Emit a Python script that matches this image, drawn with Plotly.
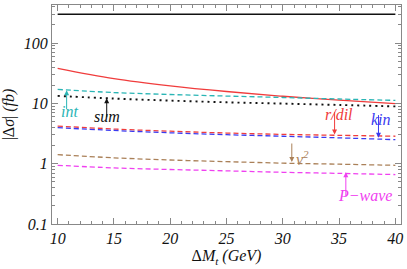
import math
import plotly.graph_objects as go

dm = [10, 15, 20, 25, 30, 35, 40]
total = [300, 300, 300, 300, 300, 300, 300]
red_solid = [38, 25.7, 19.5, 15.7, 13.1, 11.3, 9.9]
int_vals = [17, 15.1, 14.0, 13.2, 12.5, 11.8, 11.2]
sum_vals = [13.3, 12.0, 11.1, 10.4, 9.9, 9.4, 8.9]
rdil_vals = [4.2, 3.75, 3.45, 3.22, 3.06, 2.95, 2.85]
kin_vals = [3.95, 3.55, 3.25, 3.02, 2.85, 2.68, 2.5]
v2_vals = [1.41, 1.25, 1.15, 1.08, 1.02, 0.98, 0.94]
pwave_vals = [0.94, 0.85, 0.80, 0.76, 0.72, 0.69, 0.66]
x_ticks = [10, 15, 20, 25, 30, 35, 40]
y_ticks = [0.1, 1, 10, 100]
y_ticktext = ["0.1", "1", "10", "100"]

C_RED = "#f03c3c"
C_CYAN = "#2ab5b5"
C_BLUE = "#3a3af0"
C_BROWN = "#aa8058"
C_MAG = "#f040f0"
C_BLK = "#111111"
SERIF = "Liberation Serif"

fig = go.Figure()


def add(y, color, dash, width=1.3):
    fig.add_trace(go.Scatter(x=dm, y=y, mode="lines",
                             line=dict(color=color, dash=dash, width=width, shape="spline"),
                             showlegend=False, hoverinfo="skip"))


add(total, C_BLK, "solid", 1.5)
add(red_solid, C_RED, "solid", 1.3)
add(int_vals, C_CYAN, "5px,3px")
add(sum_vals, C_BLK, "2px,4px", 1.9)
add(rdil_vals, C_RED, "5px,3px")
add(kin_vals, C_BLUE, "5px,3px")
add(v2_vals, C_BROWN, "5px,3px")
add(pwave_vals, C_MAG, "5px,3px")

L = math.log10


def arrow(x, y_from, y_to, color):
    fig.add_annotation(x=x, y=L(y_to), ax=x, ay=L(y_from), xref="x", yref="y", axref="x", ayref="y",
                       text="", showarrow=True, arrowhead=2, arrowsize=1, arrowwidth=1,
                       arrowcolor=color, standoff=0, borderpad=0, font=dict(size=1))


def label(x, y, text, color):
    fig.add_annotation(x=x, y=L(y), text="<i>" + text + "</i>", showarrow=False,
                       font=dict(family=SERIF, size=16, color=color))


# (label x, label y, text, colour, arrow x, arrow tail, arrow head)
labels = [
    (11.07, 7.36, "int", C_CYAN, 10.8, 7.9, 16.5),
    (14.36, 6.07, "sum", C_BLK, 14.36, 5.85, 12.1),
    (35.0, 6.55, "r/dil", C_RED, 34.6, 7.3, 3.05),
    (38.7, 5.41, "kin", C_BLUE, 38.5, 6.5, 2.69),
    (31.75, 1.22, "v<sup>2</sup>", C_BROWN, 30.8, 2.2, 1.07),
    (37.3, 0.30, "P\u2212wave", C_MAG, 35.6, 0.29, 0.72),
]
for lx, ly, txt, col, axx, yf, yt in labels:
    arrow(axx, yf, yt, col)
    label(lx, ly, txt, col)

axis_common = dict(showgrid=False, zeroline=False, showline=True, linecolor="#888888", linewidth=1,
                   ticks="inside", ticklen=6, tickcolor="#888888", mirror="allticks",
                   tickfont=dict(family=SERIF, size=16, style="italic", color=C_BLK))

fig.update_xaxes(range=[9.5, 40.5], tickvals=x_ticks, ticktext=["<i>%d</i>" % v for v in x_ticks],
                 minor=dict(dtick=1, ticks="inside", ticklen=3, tickcolor="#888888"),
                 title=dict(text="\u0394<i>M<sub>t</sub> (GeV)</i>",
                            font=dict(family=SERIF, size=16, color=C_BLK), standoff=3),
                 **axis_common)
fig.update_yaxes(type="log", range=[-1, 2.63], tickvals=y_ticks,
                 ticktext=["<i>%s</i>" % t for t in y_ticktext],
                 minor=dict(dtick="D1", ticks="inside", ticklen=3, tickcolor="#888888"),
                 title=dict(text="|\u0394<i>\u03c3</i>| <i>(fb)</i>",
                            font=dict(family=SERIF, size=16, color=C_BLK), standoff=6),
                 **axis_common)

fig.update_layout(width=407, height=269, margin=dict(l=52, r=6, t=5, b=45),
                  paper_bgcolor="white", plot_bgcolor="white")

fig.write_html("out.html", config={"displayModeBar": False},
               post_script="document.body.style.margin='0';document.body.style.padding='0';")
